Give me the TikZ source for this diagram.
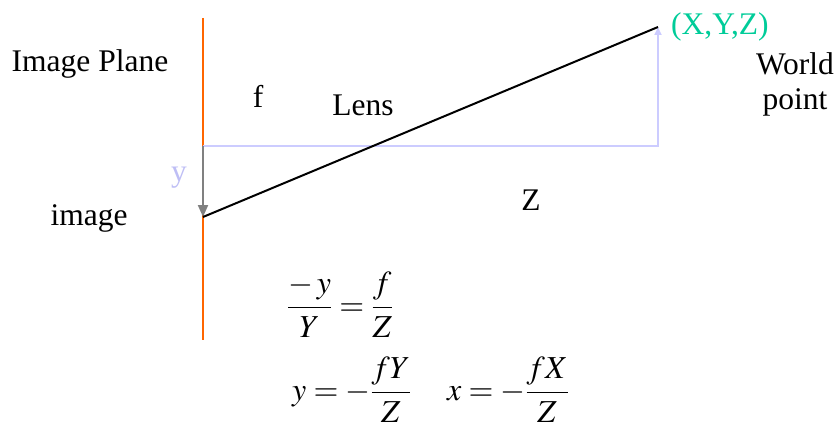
\documentclass[tikz,border=0pt]{standalone}
\usepackage{mathptmx}
\usepackage{fontspec}
\setmainfont{Liberation Serif}
\usetikzlibrary{arrows.meta}
\definecolor{planeorange}{RGB}{255,102,0}
\definecolor{lav}{RGB}{204,204,255}
\definecolor{lavtext}{RGB}{190,190,245}
\definecolor{teal}{RGB}{0,204,153}
\definecolor{arrgrey}{RGB}{128,128,128}
\tikzset{
  lbl/.style={inner sep=0pt, font=\fontsize{31.5}{36}\selectfont},
  eq/.style={inner sep=0pt, font=\fontsize{32}{38}\selectfont},
  ln/.style={line width=2pt},
}
\begin{document}
\begin{tikzpicture}[x=1pt,y=-1pt]
\useasboundingbox (0,0) rectangle (839,428);
% coordinates
\coordinate (pt) at (203,18);
\coordinate (pb) at (203,340);
\coordinate (ax) at (203,146);
\coordinate (corner) at (658,146);
\coordinate (wp) at (658,27);
\coordinate (img) at (203,217);
% image plane
\draw[ln, planeorange] (pt) -- (pb);
% optical axis and world point height
\draw[ln, lav, -{Triangle[width=7pt,length=8pt]}] (ax) -- (corner) -- (wp);
% image height arrow
\draw[ln, arrgrey, -{Triangle[width=10pt,length=12pt]}] (ax) -- (img);
% ray
\draw[ln, black] (img) -- (wp);
% labels
\node[lbl, anchor=base] (iplane) at (90,72) {Image Plane};
\node[lbl, anchor=base] (f) at (258,107) {f};
\node[lbl, anchor=base] (lens) at (363,115) {Lens};
\node[lbl, teal, anchor=base west] (xyz) at (671,35) {(X,Y,Z)};
\node[lbl, anchor=base] (world) at (795,75) {World};
\node[lbl, anchor=base] (point) at (795,110) {point};
\node[lbl, anchor=base, lavtext] (ylab) at (179,181) {y};
\node[lbl, anchor=base] (image) at (89,225) {image};
\node[lbl, anchor=base] (zlab) at (531,210) {Z};
% equations
\node[eq, anchor=west] (eq1) at (287,305) {$\displaystyle\frac{-\,y}{Y}=\frac{f}{Z}$};
\node[eq, anchor=west] (eq2) at (292,390) {$\displaystyle y=-\frac{fY}{Z}$};
\node[eq, anchor=west] (eq3) at (447,390) {$\displaystyle x=-\frac{fX}{Z}$};
\end{tikzpicture}
\end{document}
